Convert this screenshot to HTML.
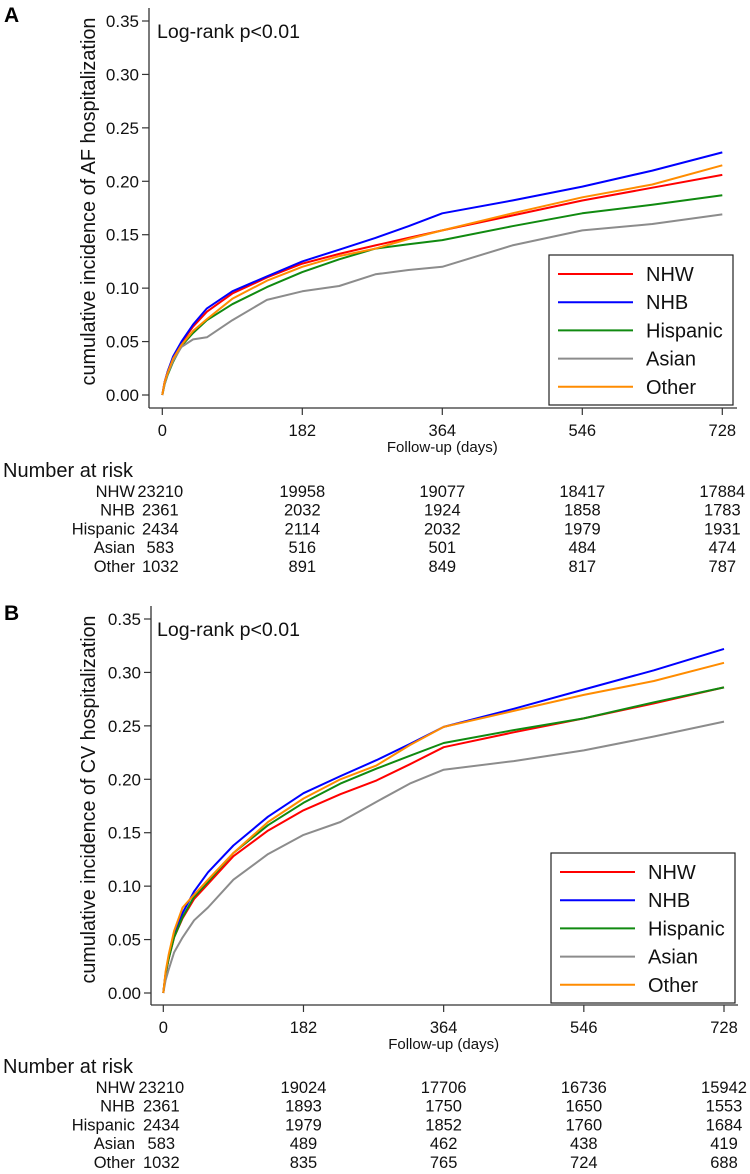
<!DOCTYPE html>
<html><head><meta charset="utf-8">
<style>
html,body{margin:0;padding:0;background:#fff;}
svg{display:block;font-family:"Liberation Sans",Arial,sans-serif;}
</style></head>
<body>
<svg id="fig" width="750" height="1174" viewBox="0 0 750 1174" xmlns="http://www.w3.org/2000/svg"></svg>
<script>
const seriesNames = ["NHW","NHB","Hispanic","Asian","Other"];
const seriesColors = ["#ff0000","#0000ff","#108a10","#8c8c8c","#ff8c00"];
const days = [0,3,7,14,25,40,58,91,136,182,230,277,320,364,455,546,637,728];
const xTicks = [0,182,364,546,728];
const yTicks = [0,0.05,0.10,0.15,0.20,0.25,0.30,0.35];
const yTickLabels = ["0.00","0.05","0.10","0.15","0.20","0.25","0.30","0.35"];

const afNHW = [0,0.012,0.022,0.035,0.049,0.064,0.078,0.095,0.110,0.123,0.132,0.140,0.147,0.154,0.168,0.182,0.194,0.206];
const afNHB = [0,0.012,0.022,0.036,0.050,0.066,0.081,0.097,0.111,0.125,0.136,0.147,0.158,0.170,0.182,0.195,0.210,0.227];
const afHispanic = [0,0.010,0.019,0.031,0.046,0.058,0.070,0.085,0.101,0.115,0.127,0.137,0.141,0.145,0.158,0.170,0.178,0.187];
const afAsian = [0,0.010,0.020,0.032,0.045,0.052,0.054,0.070,0.089,0.097,0.102,0.113,0.117,0.120,0.140,0.154,0.160,0.169];
const afOther = [0,0.012,0.021,0.034,0.047,0.060,0.071,0.090,0.107,0.120,0.130,0.137,0.146,0.154,0.170,0.185,0.197,0.215];

const cvNHW = [0,0.018,0.032,0.052,0.070,0.088,0.102,0.128,0.152,0.171,0.186,0.199,0.214,0.230,0.244,0.257,0.271,0.286];
const cvNHB = [0,0.018,0.033,0.054,0.075,0.095,0.113,0.138,0.165,0.187,0.203,0.218,0.233,0.249,0.266,0.284,0.302,0.322];
const cvHispanic = [0,0.018,0.032,0.052,0.071,0.090,0.104,0.131,0.157,0.178,0.196,0.210,0.222,0.234,0.246,0.257,0.272,0.286];
const cvAsian = [0,0.012,0.022,0.038,0.052,0.068,0.080,0.106,0.130,0.148,0.160,0.179,0.196,0.209,0.217,0.227,0.240,0.254];
const cvOther = [0,0.020,0.036,0.058,0.080,0.092,0.106,0.131,0.160,0.182,0.200,0.213,0.232,0.249,0.264,0.279,0.292,0.309];

const riskA_NHW = [23210,19958,19077,18417,17884];
const riskA_NHB = [2361,2032,1924,1858,1783];
const riskA_Hispanic = [2434,2114,2032,1979,1931];
const riskA_Asian = [583,516,501,484,474];
const riskA_Other = [1032,891,849,817,787];

const riskB_NHW = [23210,19024,17706,16736,15942];
const riskB_NHB = [2361,1893,1750,1650,1553];
const riskB_Hispanic = [2434,1979,1852,1760,1684];
const riskB_Asian = [583,489,462,438,419];
const riskB_Other = [1032,835,765,724,688];

const NS = "http://www.w3.org/2000/svg";
const svg = document.getElementById("fig");
function mk(tag, attrs, parent, text){
  const e = document.createElementNS(NS, tag);
  for (const k in attrs) e.setAttribute(k, attrs[k]);
  if (text !== undefined) e.textContent = text;
  (parent||svg).appendChild(e);
  return e;
}

function panel(cfg){
  const g = mk("g", {});
  
  
  const x = d => cfg.x0 + (d/728)*(cfg.x728 - cfg.x0);
  const y = v => cfg.y0 - (v/0.35)*(cfg.y0 - cfg.y35);

  const lab = mk("text", {x:4, y:cfg.labelY, "font-size":21, "font-weight":"bold"}, g, cfg.letter);
  
  

  const ya = mk("line", {x1:cfg.axX, y1:cfg.axTop, x2:cfg.axX, y2:cfg.axY, stroke:"#333", "stroke-width":1.3}, g);
  
  
  const xa = mk("line", {x1:cfg.axX, y1:cfg.axY, x2:cfg.axRight, y2:cfg.axY, stroke:"#333", "stroke-width":1.3}, g);
  
  

  yTicks.forEach((t,i)=>{
    const yy = y(t);
    const tl = mk("line", {x1:cfg.axX-7, y1:yy, x2:cfg.axX, y2:yy, stroke:"#333", "stroke-width":1.2}, g);
    
    
    const tt = mk("text", {x:cfg.axX-10, y:yy+6, "font-size":17, "text-anchor":"end", fill:"#111"}, g, yTickLabels[i]);
    
    
  });
  xTicks.forEach(t=>{
    const xx = x(t);
    const tl = mk("line", {x1:xx, y1:cfg.axY, x2:xx, y2:cfg.axY+7, stroke:"#333", "stroke-width":1.2}, g);
    
    
    const tt = mk("text", {x:xx, y:cfg.axY+28, "font-size":16.5, "text-anchor":"middle", fill:"#111"}, g, String(t));
    
    
  });
  const xt = mk("text", {x:(cfg.x0+cfg.x728)/2, y:cfg.axY+44, "font-size":15, "text-anchor":"middle", fill:"#111"}, g, "Follow-up (days)");
  
  

  const cy = (cfg.axTop + cfg.y0)/2;
  const yt = mk("text", {x:0, y:0, "font-size":20, "text-anchor":"middle", fill:"#111", textLength:368, lengthAdjust:"spacingAndGlyphs", transform:`translate(95,${cy}) rotate(-90)`}, g, cfg.ytitle);
  
  

  const lr = mk("text", {x:157, y:cfg.y35+17, "font-size":19, fill:"#111", textLength:143, lengthAdjust:"spacingAndGlyphs"}, g, "Log-rank p<0.01");
  
  

  cfg.series.forEach((vals,si)=>{
    const pts = vals.map((v,i)=>x(days[i]).toFixed(1)+","+y(v).toFixed(1)).join(" ");
    const pl = mk("polyline", {points:pts, fill:"none", stroke:seriesColors[si], "stroke-width":2, "stroke-linejoin":"round"}, g);
    
    
  });

  const lg = mk("g", {}, g);
  
  
  mk("rect", {x:cfg.lgX, y:cfg.lgY, width:184, height:150, fill:"#fff", stroke:"#222", "stroke-width":1.2}, lg);
  seriesNames.forEach((n,i)=>{
    const ey = cfg.lgY + 19 + i*28.2;
    const e = mk("g", {}, lg);
    
    
    mk("line", {x1:cfg.lgX+9, y1:ey, x2:cfg.lgX+84, y2:ey, stroke:seriesColors[i], "stroke-width":2}, e);
    mk("text", {x:cfg.lgX+97, y:ey+7, "font-size":20, fill:"#111"}, e, n);
  });

  const rt = mk("g", {}, g);
  
  
  mk("text", {x:3, y:cfg.riskTitleY, "font-size":20, fill:"#111"}, rt, "Number at risk");
  cfg.risk.forEach((row,ri)=>{
    const ry = cfg.riskTitleY + 20 + ri*18.7;
    mk("text", {x:135, y:ry, "font-size":16.5, "text-anchor":"end", fill:"#111"}, rt, seriesNames[ri]);
    row.forEach((v,ci)=>{
      mk("text", {x:x(xTicks[ci]) + (ci===0?-2:0), y:ry, "font-size":16.5, "text-anchor":"middle", fill:"#111"}, rt, String(v));
    });
  });
}

panel({id:"af", letter:"A", labelY:22, axX:149, axTop:8, axY:408, axRight:737,
  x0:162.3, x728:722.3, y0:395, y35:21,
  ytitle:"cumulative incidence of AF hospitalization",
  series:[afNHW,afNHB,afHispanic,afAsian,afOther],
  lgX:549, lgY:255, riskTitleY:477,
  risk:[riskA_NHW,riskA_NHB,riskA_Hispanic,riskA_Asian,riskA_Other]});

panel({id:"cv", letter:"B", labelY:620, axX:151, axTop:606, axY:1005, axRight:738,
  x0:163.3, x728:724, y0:993, y35:619,
  ytitle:"cumulative incidence of CV hospitalization",
  series:[cvNHW,cvNHB,cvHispanic,cvAsian,cvOther],
  lgX:551, lgY:853, riskTitleY:1073,
  risk:[riskB_NHW,riskB_NHB,riskB_Hispanic,riskB_Asian,riskB_Other]});
</script>
</body></html>
